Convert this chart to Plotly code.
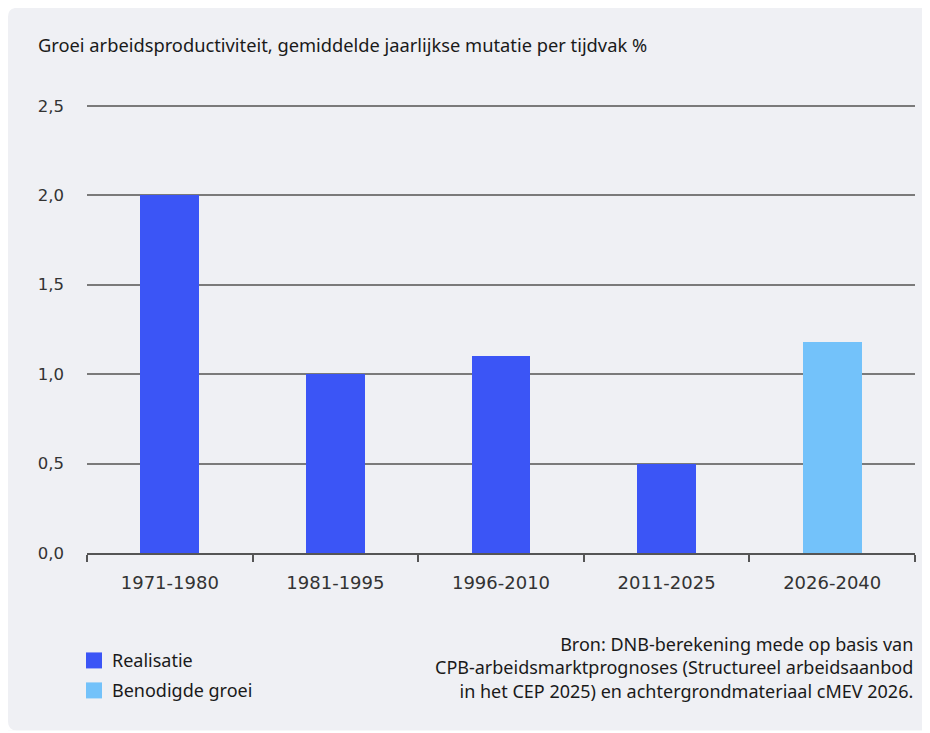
import plotly.graph_objects as go

# ---- data ----
categories = ["1971-1980", "1981-1995", "1996-2010", "2011-2025", "2026-2040"]
realisatie_cats = ["1971-1980", "1981-1995", "1996-2010", "2011-2025"]
realisatie_vals = [2.0, 1.0, 1.1, 0.5]
benodigd_cats = ["2026-2040"]
benodigd_vals = [1.18]
series_names = ["Realisatie", "Benodigde groei"]
series_colors = ["#3b55f6", "#73c2fa"]
y_tickvals = [0, 0.5, 1.0, 1.5, 2.0, 2.5]
y_ticktext = ["0,0", "0,5", "1,0", "1,5", "2,0", "2,5"]

title_text = "Groei arbeidsproductiviteit, gemiddelde jaarlijkse mutatie per tijdvak %"
source_lines = [
    "Bron: DNB-berekening mede op basis van",
    "CPB-arbeidsmarktprognoses (Structureel arbeidsaanbod",
    "in het CEP 2025) en achtergrondmateriaal cMEV 2026.",
]

OFF = 8  # page body margin
W, H = 922, 725
YMAX = 2.51
zero_px, top_px = 553.5, 106  # page pixel rows of 0 and 2.5
unit = (zero_px - top_px) / 2.5
L = 87 - OFF
R = W - (915 - OFF)
B = H - (zero_px - OFF)
T = (zero_px - OFF) - unit * YMAX
PW, PH = W - L - R, H - T - B


def px(x):
    return (x - OFF - L) / PW


def py(y):
    return (H - B - (y - OFF)) / PH


BG = "#eff0f4"
TEXT_FONT = "Noto Sans"
TXT = 18
fig = go.Figure()

fig.add_trace(go.Bar(x=realisatie_cats, y=realisatie_vals, name=series_names[0],
                     marker=dict(color=series_colors[0], line=dict(width=0)),
                     width=0.356, showlegend=False))
fig.add_trace(go.Bar(x=benodigd_cats, y=benodigd_vals, name=series_names[1],
                     marker=dict(color=series_colors[1], line=dict(width=0)),
                     width=0.356, showlegend=False))

# white patches to round the panel's left corners, and a thin bottom strip
r = 9
fx0, fy0, fy1 = px(8), py(8), py(731)
rx, ry = r / PW, r / PH
shapes = [
    dict(type="path", xref="paper", yref="paper", layer="below",
         path=f"M {fx0},{fy0} L {fx0+rx},{fy0} Q {fx0},{fy0} {fx0},{fy0-ry} Z",
         fillcolor="white", line=dict(width=0)),
    dict(type="path", xref="paper", yref="paper", layer="below",
         path=f"M {fx0},{fy1} L {fx0+rx},{fy1} Q {fx0},{fy1} {fx0},{fy1+ry} Z",
         fillcolor="white", line=dict(width=0)),
    dict(type="rect", xref="paper", yref="paper", layer="below",
         x0=px(0), x1=px(960), y0=py(731), y1=py(760),
         fillcolor="white", line=dict(width=0)),
]

# legend (manual)
annotations = []
leg_y = [653, 683]
for i, name in enumerate(series_names):
    shapes.append(dict(type="rect", xref="paper", yref="paper",
                       x0=px(86), x1=px(102), y0=py(leg_y[i]), y1=py(leg_y[i] + 16),
                       fillcolor=series_colors[i], line=dict(width=0)))
    annotations.append(dict(text=name, xref="paper", yref="paper",
                            x=px(110), y=py(leg_y[i] + 8), xanchor="left", yanchor="middle",
                            showarrow=False, font=dict(family=TEXT_FONT, size=TXT, color="#1a1a1a")))

annotations.append(dict(text=title_text, xref="paper", yref="paper",
                        x=px(36), y=py(45), xanchor="left", yanchor="middle",
                        showarrow=False, font=dict(family=TEXT_FONT, size=18.3, color="#1a1a1a")))
annotations.append(dict(text="<br>".join(source_lines), xref="paper", yref="paper",
                        x=px(915), y=py(631), xanchor="right", yanchor="top", align="right",
                        showarrow=False, font=dict(family=TEXT_FONT, size=TXT, color="#1a1a1a")))

fig.update_layout(
    width=W, height=H,
    margin=dict(l=L, r=R, t=T, b=B, autoexpand=False),
    paper_bgcolor=BG, plot_bgcolor="rgba(0,0,0,0)",
    barmode="overlay", bargap=0,
    shapes=shapes, annotations=annotations,
    showlegend=False,
    xaxis=dict(categoryorder="array", categoryarray=categories,
               showgrid=False, showline=True, linecolor="#555555", linewidth=2,
               ticks="outside", ticklen=7, tickwidth=1.5, tickcolor="#555555",
               tickson="boundaries", ticklabelstandoff=12,
               tickfont=dict(family="DejaVu Sans", size=18, color="#333333"),
               fixedrange=True),
    yaxis=dict(range=[0, YMAX], tickvals=y_tickvals, ticktext=y_ticktext,
               showgrid=True, gridcolor="#7a7a7a", gridwidth=1.5,
               zeroline=False, showline=False, ticks="",
               ticklabelstandoff=22,
               tickfont=dict(family="DejaVu Sans", size=16.5, color="#333333"),
               fixedrange=True),
)

fig.write_html(
    "out.html",
    post_script="document.documentElement.style.overflow='hidden';document.body.style.overflow='hidden';",
)
